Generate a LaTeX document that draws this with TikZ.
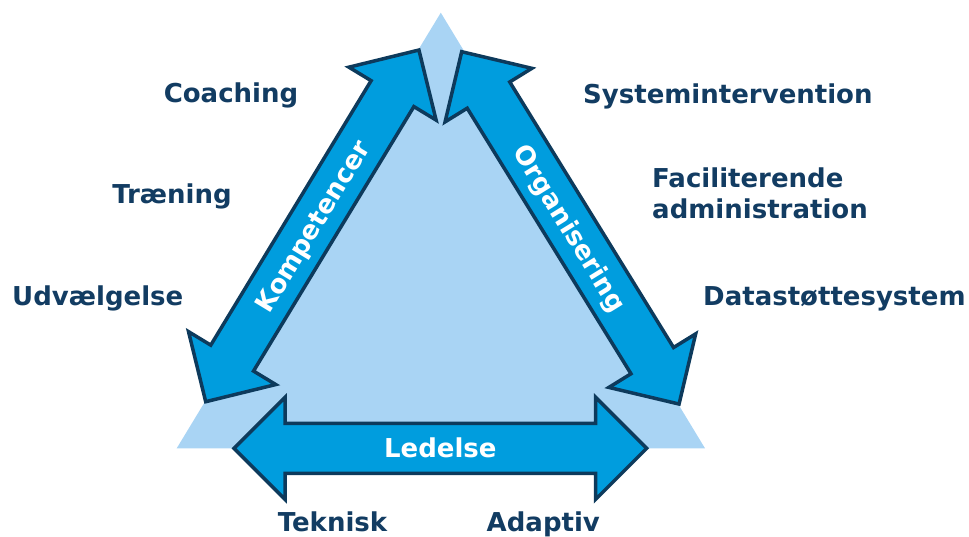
\documentclass[tikz,border=0pt]{standalone}
\usepackage{fontspec}
\setmainfont{DejaVu Sans}
\definecolor{paleblue}{HTML}{A9D4F4}
\definecolor{bandblue}{HTML}{009DDE}
\definecolor{bandedge}{HTML}{0D3A5C}
\definecolor{labelnavy}{HTML}{123C62}
\tikzset{
  band/.style={fill=bandblue, draw=bandedge, line width=3.5pt, line join=miter},
  bandtext/.style={text=white, font=\fontsize{26}{30}\selectfont\bfseries, inner sep=0pt},
  outer/.style={text=labelnavy, font=\fontsize{26}{30}\selectfont\bfseries, inner sep=0pt},
}
% double-headed band arrow: #1 start coordinate, #2 angle, #3 length,
% #4 node name, #5 label
\newcommand\bandarrow[5]{%
  \begin{scope}[shift={(#1)}, rotate=#2]
    \draw[band] (0,0) -- (51,51) -- (51,25) -- ({#3-51},25) -- ({#3-51},51)
      -- (#3,0) -- ({#3-51},-51) -- ({#3-51},-25) -- (51,-25) -- (51,-51) -- cycle;
    \node[bandtext, anchor=base, rotate=#2] (#4) at ({#3/2},-9.5) {#5};
  \end{scope}}
\begin{document}
\begin{tikzpicture}[x=1pt, y=1pt]
  \useasboundingbox (0,0) rectangle (969,-536);
  % the triangle behind the arrows
  \coordinate (apex) at (440.8,-12.7);
  \coordinate (left) at (176.7,-448.3);
  \coordinate (right) at (705,-448.3);
  \fill[paleblue] (apex) -- (left) -- (right) -- cycle;
  % tips where the three arrows start
  \coordinate (kstart) at (205.7,-401.7);
  \coordinate (ostart) at (461.7,-51.7);
  \coordinate (lstart) at (234,-448.3);
  \bandarrow{kstart}{58.77}{411.3}{komp}{Kompetencer}
  \bandarrow{ostart}{-58.33}{414}{org}{Organisering}
  \bandarrow{lstart}{0}{412.7}{led}{Ledelse}
  % labels around the triangle
  \node[outer, anchor=base] (coach) at (231,-102.3) {Coaching};
  \node[outer, anchor=base] (train) at (172,-203) {Træning};
  \node[outer, anchor=base west] (select) at (12,-305) {Udvælgelse};
  \node[outer, anchor=base west] (sys) at (583,-103.3) {Systemintervention};
  \node[outer, anchor=north west, align=left] (facil) at (652,-168) {Faciliterende\\[1pt]administration};
  \node[outer, anchor=base west] (data) at (703,-305) {Datastøttesystem};
  \node[outer, anchor=base] (tek) at (332.5,-531) {Teknisk};
  \node[outer, anchor=base] (adap) at (543.3,-531) {Adaptiv};
\end{tikzpicture}
\end{document}
